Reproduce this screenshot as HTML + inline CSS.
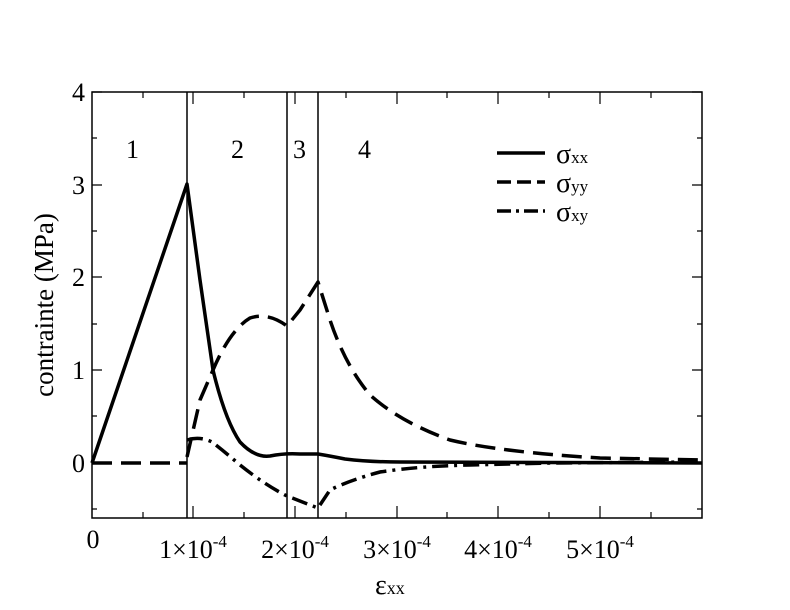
<!DOCTYPE html><html><head><style>body{margin:0;background:#fff}svg{display:block}text{font-family:"Liberation Serif",serif;fill:#000}</style></head><body>
<svg width="790" height="610" viewBox="0 0 790 610">
<rect x="92" y="92" width="610" height="426" fill="none" stroke="#000" stroke-width="1.5"/>
<g stroke="#000" stroke-width="1.2">
<path d="M92 92h10M92 185h10M92 277h10M92 370h10M92 463h10M92 138h5M92 231h5M92 324h5M92 416h5M92 509h5"/>
<path d="M702 92h-10M702 185h-10M702 277h-10M702 370h-10M702 463h-10M702 138h-5M702 231h-5M702 324h-5M702 416h-5M702 509h-5"/>
<path d="M193 518v-12M295 518v-12M397 518v-12M498 518v-12M600 518v-12M143 518v-6M244 518v-6M346 518v-6M447 518v-6M549 518v-6M651 518v-6"/>
<path d="M193 92v12M295 92v12M397 92v12M498 92v12M600 92v12M143 92v6M244 92v6M346 92v6M447 92v6M549 92v6M651 92v6"/>
<path d="M187 92v426M287 92v426M318 92v426" stroke-width="1.5"/>
</g>
<g fill="none" stroke="#000" stroke-width="3.5" stroke-linejoin="round">
<path d="M92 463L187 184L200 280L213 370Q225 420 240 442Q255 458 270 456Q285 453 300 454L318 454Q330 456 345 459Q370 462 400 462L702 463"/>
<path d="M92 463H187" stroke-dasharray="20 9"/>
<path d="M187 457L200 400L213 370Q230 330 250 318Q268 312 287 326L300 310L318 282L330 320Q345 365 370 395Q400 422 450 440Q500 452 600 458L702 460" stroke-dasharray="20 9"/>
<path d="M187 440Q200 436 212 442Q225 452 240 465Q265 485 287 496L318 508L330 490Q350 480 380 472Q420 466 470 465L550 463L702 462" stroke-dasharray="16 6 3 6"/>
<path d="M497 153h48"/><path d="M497 182h48" stroke-dasharray="14 6"/><path d="M497 211h48" stroke-dasharray="14 5 3 5"/>
</g>
<g font-size="26">
<text x="126" y="158">1</text><text x="231" y="158">2</text><text x="293" y="158">3</text><text x="358" y="158">4</text>
<text x="556" y="163" font-size="28">σ<tspan font-size="17">xx</tspan></text>
<text x="556" y="192" font-size="28">σ<tspan font-size="17">yy</tspan></text>
<text x="556" y="221" font-size="28">σ<tspan font-size="17">xy</tspan></text>
<g text-anchor="end"><text x="85" y="101">4</text><text x="85" y="194">3</text><text x="85" y="286">2</text><text x="85" y="379">1</text><text x="85" y="472">0</text></g>
<text x="93" y="548" text-anchor="middle">0</text>
<g text-anchor="middle"><text x="193" y="558">1×10<tspan font-size="17" dy="-11">-4</tspan></text><text x="295" y="558">2×10<tspan font-size="17" dy="-11">-4</tspan></text><text x="397" y="558">3×10<tspan font-size="17" dy="-11">-4</tspan></text><text x="498" y="558">4×10<tspan font-size="17" dy="-11">-4</tspan></text><text x="600" y="558">5×10<tspan font-size="17" dy="-11">-4</tspan></text></g>
<text x="375" y="594" font-size="28">ε<tspan font-size="18">xx</tspan></text>
<text transform="translate(53,305) rotate(-90)" text-anchor="middle" font-size="27">contrainte (MPa)</text>
</g>
</svg></body></html>
